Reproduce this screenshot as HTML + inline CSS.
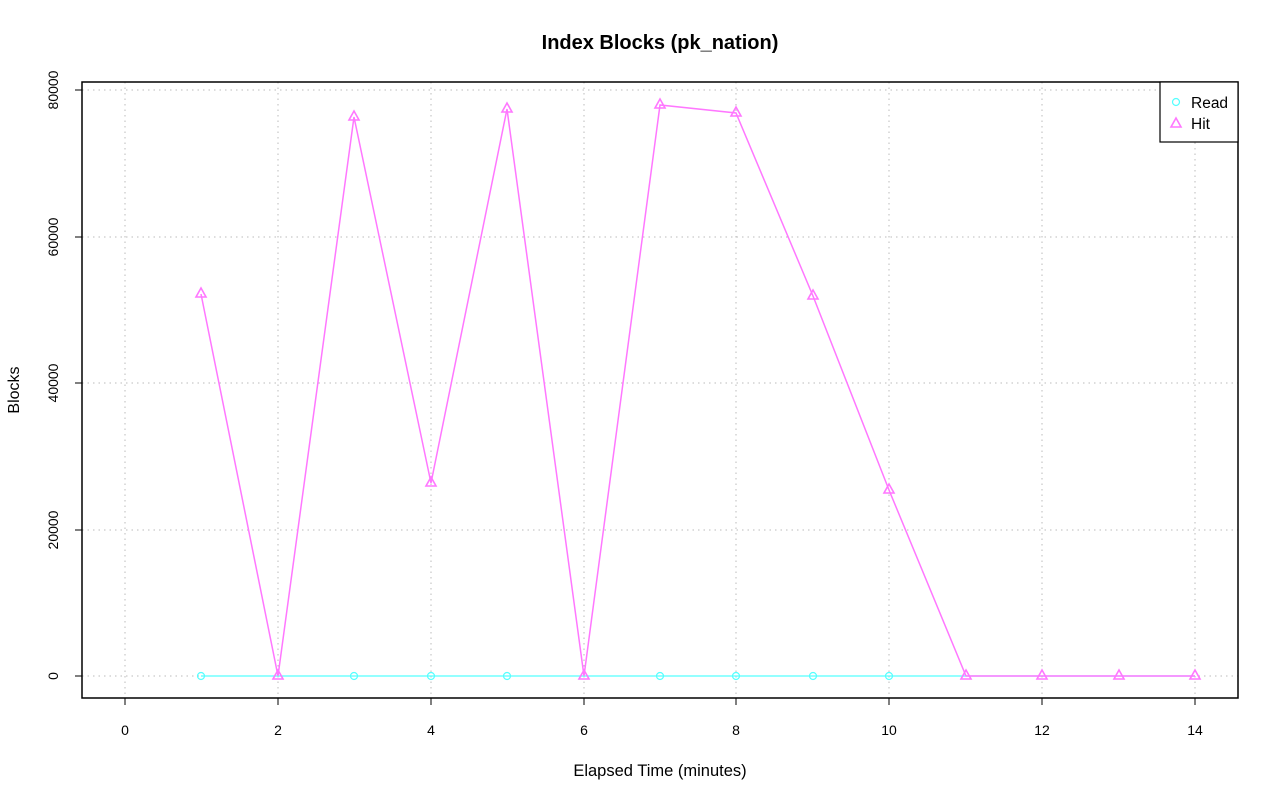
<!DOCTYPE html>
<html><head><meta charset="utf-8"><style>body{margin:0;background:#fff}</style></head><body>
<svg width="1280" height="801" xmlns="http://www.w3.org/2000/svg" font-family="Liberation Sans, sans-serif">
<rect width="1280" height="801" fill="#fff"/>
<text x="660" y="49" text-anchor="middle" font-size="20" font-weight="bold">Index Blocks (pk_nation)</text>
<g stroke="#bbb" stroke-dasharray="1.5,4" stroke-width="1">
<line x1="125" y1="82" x2="125" y2="698"/><line x1="278" y1="82" x2="278" y2="698"/><line x1="431" y1="82" x2="431" y2="698"/><line x1="584" y1="82" x2="584" y2="698"/><line x1="736" y1="82" x2="736" y2="698"/><line x1="889" y1="82" x2="889" y2="698"/><line x1="1042" y1="82" x2="1042" y2="698"/><line x1="1195" y1="82" x2="1195" y2="698"/>
<line x1="82" y1="676" x2="1238" y2="676"/><line x1="82" y1="530" x2="1238" y2="530"/><line x1="82" y1="383" x2="1238" y2="383"/><line x1="82" y1="237" x2="1238" y2="237"/><line x1="82" y1="90" x2="1238" y2="90"/>
</g>
<rect x="82" y="82" width="1156" height="616" fill="none" stroke="#000" stroke-width="1.5"/>
<g stroke="#000"><line x1="125" y1="698" x2="125" y2="705"/><line x1="278" y1="698" x2="278" y2="705"/><line x1="431" y1="698" x2="431" y2="705"/><line x1="584" y1="698" x2="584" y2="705"/><line x1="736" y1="698" x2="736" y2="705"/><line x1="889" y1="698" x2="889" y2="705"/><line x1="1042" y1="698" x2="1042" y2="705"/><line x1="1195" y1="698" x2="1195" y2="705"/>
<line x1="75" y1="676" x2="82" y2="676"/><line x1="75" y1="530" x2="82" y2="530"/><line x1="75" y1="383" x2="82" y2="383"/><line x1="75" y1="237" x2="82" y2="237"/><line x1="75" y1="90" x2="82" y2="90"/></g>
<g font-size="14" text-anchor="middle"><text x="125" y="735">0</text><text x="278" y="735">2</text><text x="431" y="735">4</text><text x="584" y="735">6</text><text x="736" y="735">8</text><text x="889" y="735">10</text><text x="1042" y="735">12</text><text x="1195" y="735">14</text></g>
<g font-size="14" text-anchor="middle"><text transform="translate(58,676) rotate(-90)">0</text><text transform="translate(58,530) rotate(-90)">20000</text><text transform="translate(58,383) rotate(-90)">40000</text><text transform="translate(58,237) rotate(-90)">60000</text><text transform="translate(58,90) rotate(-90)">80000</text></g>
<text x="660" y="776" text-anchor="middle" font-size="16.5">Elapsed Time (minutes)</text>
<text transform="translate(19,390) rotate(-90)" text-anchor="middle" font-size="16">Blocks</text>
<polyline fill="none" stroke="#5ff" stroke-width="1.2" points="201,676 278,676 354,676 431,676 507,676 584,676 660,676 736,676 813,676 889,676 966,676 1042,676 1119,676 1195,676"/>
<g fill="none" stroke="#5ff" stroke-width="1.2"><circle cx="201" cy="676" r="3.5"/><circle cx="354" cy="676" r="3.5"/><circle cx="431" cy="676" r="3.5"/><circle cx="507" cy="676" r="3.5"/><circle cx="660" cy="676" r="3.5"/><circle cx="736" cy="676" r="3.5"/><circle cx="813" cy="676" r="3.5"/><circle cx="889" cy="676" r="3.5"/></g>
<polyline fill="none" stroke="#f7f" stroke-width="1.5" points="201,294 278,676 354,117 431,483 507,109 584,676 660,105 736,113 813,296 889,490 966,676 1042,676 1119,676 1195,676"/>
<g fill="none" stroke="#f7f" stroke-width="1.6">
<path d="M201,288l5,9h-10z"/><path d="M278,670l5,9h-10z"/><path d="M354,111l5,9h-10z"/><path d="M431,477l5,9h-10z"/><path d="M507,103l5,9h-10z"/><path d="M584,670l5,9h-10z"/><path d="M660,99l5,9h-10z"/><path d="M736,107l5,9h-10z"/><path d="M813,290l5,9h-10z"/><path d="M889,484l5,9h-10z"/><path d="M966,670l5,9h-10z"/><path d="M1042,670l5,9h-10z"/><path d="M1119,670l5,9h-10z"/><path d="M1195,670l5,9h-10z"/></g>
<rect x="1160" y="82" width="78" height="60" fill="#fff" stroke="#000" stroke-width="1.2"/>
<circle cx="1176" cy="102" r="3.5" fill="none" stroke="#5ff" stroke-width="1.2"/>
<path d="M1176,118l5,9h-10z" fill="none" stroke="#f7f" stroke-width="1.6"/>
<text x="1191" y="108" font-size="15.5">Read</text><text x="1191" y="129" font-size="15.5">Hit</text>
</svg>
</body></html>
